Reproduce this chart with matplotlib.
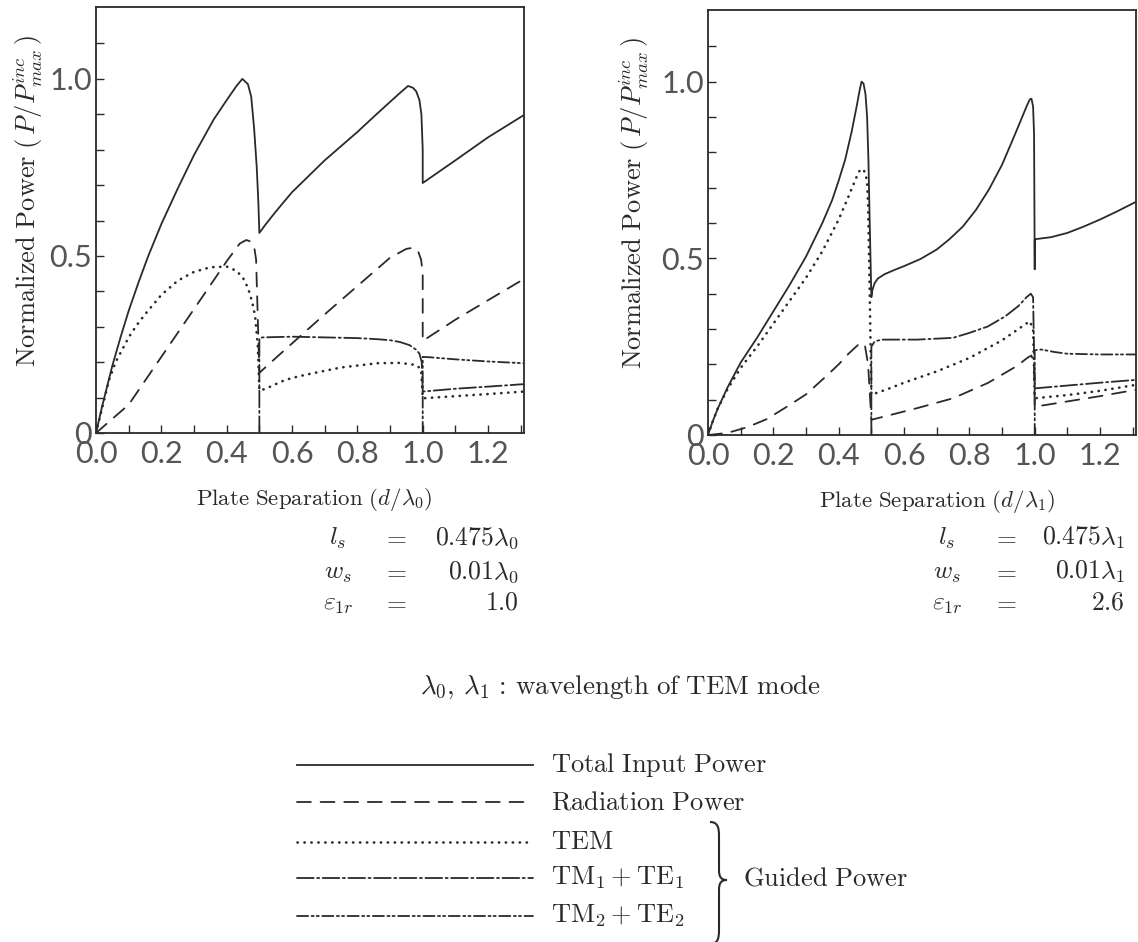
import matplotlib
matplotlib.use('Agg')
import matplotlib.pyplot as plt
from matplotlib.path import Path
from matplotlib.patches import PathPatch

plt.rcParams['mathtext.fontset'] = 'cm'
plt.rcParams['lines.scale_dashes'] = False

# ---- left panel (eps_1r = 1.0) ----
tot_x_l = [0, 0.01, 0.02, 0.035, 0.05, 0.075, 0.1, 0.13, 0.16, 0.2, 0.25, 0.3, 0.36, 0.4, 0.43,
           0.448, 0.465, 0.475, 0.484, 0.492, 0.497, 0.5,
           0.52, 0.55, 0.6, 0.65, 0.7, 0.75, 0.8, 0.85, 0.9, 0.93, 0.955, 0.97, 0.98, 0.99, 0.996,
           1.0, 1.0, 1.1, 1.2, 1.31]
tot_y_l = [0, 0.04, 0.08, 0.135, 0.19, 0.27, 0.345, 0.425, 0.5, 0.59, 0.69, 0.785, 0.885, 0.94, 0.98,
           1.0, 0.985, 0.95, 0.86, 0.75, 0.65, 0.565,
           0.59, 0.625, 0.68, 0.725, 0.77, 0.81, 0.85, 0.893, 0.935, 0.96, 0.98, 0.975, 0.965, 0.94,
           0.9, 0.8, 0.706, 0.77, 0.835, 0.898]

rad_x_l = [0, 0.1, 0.2, 0.3, 0.4, 0.44, 0.46, 0.475, 0.485, 0.49, 0.5, 0.56, 0.7, 0.8, 0.9, 0.95,
           0.97, 0.985, 0.995, 1.0, 1.0, 1.1, 1.2, 1.31]
rad_y_l = [0, 0.08, 0.215, 0.35, 0.485, 0.535, 0.545, 0.54, 0.52, 0.49, 0.17, 0.22, 0.335, 0.415,
           0.495, 0.52, 0.523, 0.515, 0.49, 0.45, 0.26, 0.32, 0.375, 0.435]

tem_x_l = [0, 0.02, 0.04, 0.06, 0.08, 0.1, 0.125, 0.15, 0.2, 0.25, 0.3, 0.35, 0.4, 0.43, 0.45,
           0.465, 0.478, 0.487, 0.495, 0.5,
           0.52, 0.55, 0.58, 0.62, 0.66, 0.75, 0.86, 0.93, 0.98, 0.995, 1.0, 1.1, 1.2, 1.31]
tem_y_l = [0, 0.075, 0.15, 0.2, 0.235, 0.27, 0.305, 0.335, 0.39, 0.43, 0.455, 0.468, 0.47, 0.458,
           0.438, 0.41, 0.37, 0.33, 0.25, 0.12,
           0.125, 0.138, 0.15, 0.16, 0.168, 0.185, 0.197, 0.198, 0.192, 0.18, 0.098, 0.104,
           0.11, 0.117]

tm1_x_l = [0.5, 0.5, 0.51, 0.6, 0.7, 0.8, 0.86, 0.9, 0.93, 0.96, 0.98, 0.99, 0.997, 1.0, 1.1, 1.2, 1.31]
tm1_y_l = [0, 0.268, 0.27, 0.272, 0.27, 0.268, 0.265, 0.262, 0.257, 0.248, 0.235, 0.224, 0.2,
           0.117, 0.125, 0.131, 0.138]

tm2_x_l = [1.0, 1.0, 1.02, 1.1, 1.2, 1.31]
tm2_y_l = [0, 0.215, 0.214, 0.208, 0.202, 0.197]

# ---- right panel (eps_1r = 2.6) ----
tot_x_r = [0, 0.015, 0.03, 0.06, 0.1, 0.15, 0.2, 0.25, 0.3, 0.35, 0.38, 0.4, 0.42, 0.44, 0.455,
           0.465, 0.47, 0.476, 0.482, 0.487, 0.491, 0.495, 0.5,
           0.503, 0.51, 0.52, 0.54, 0.57, 0.6, 0.65, 0.7, 0.74, 0.78, 0.82, 0.86, 0.9, 0.93, 0.955,
           0.975, 0.985, 0.99, 0.995, 0.998, 1.0, 1.0, 1.05, 1.1, 1.15, 1.2, 1.25, 1.31]
tot_y_r = [0, 0.04, 0.075, 0.135, 0.205, 0.275, 0.35, 0.425, 0.505, 0.6, 0.665, 0.72, 0.78, 0.86,
           0.93, 0.98, 1.0, 0.995, 0.965, 0.9, 0.78, 0.6, 0.39,
           0.41, 0.43, 0.443, 0.455, 0.467, 0.478, 0.498, 0.525, 0.555, 0.59, 0.637, 0.695, 0.765,
           0.83, 0.885, 0.93, 0.95, 0.952, 0.93, 0.85, 0.469, 0.554, 0.56, 0.572, 0.59, 0.61, 0.632,
           0.66]

rad_x_r = [0, 0.06, 0.12, 0.18, 0.25, 0.3, 0.36, 0.4, 0.43, 0.465, 0.48, 0.49, 0.5, 0.64, 0.75,
           0.856, 0.943, 0.98, 0.99, 0.998, 1.0, 1.1, 1.2, 1.31]
rad_y_r = [0, 0.006, 0.022, 0.045, 0.085, 0.115, 0.165, 0.2, 0.23, 0.26, 0.255, 0.2, 0.043, 0.076,
           0.104, 0.147, 0.194, 0.22, 0.225, 0.2, 0.08, 0.095, 0.11, 0.128]

tem_x_r = [0, 0.015, 0.03, 0.06, 0.1, 0.15, 0.2, 0.25, 0.3, 0.35, 0.4, 0.43, 0.45, 0.46, 0.467,
           0.475, 0.482, 0.487, 0.49, 0.495, 0.5,
           0.55, 0.6, 0.7, 0.8, 0.9, 0.95, 0.985, 0.995, 1.0, 1.1, 1.2, 1.31]
tem_y_r = [0, 0.04, 0.075, 0.13, 0.19, 0.25, 0.315, 0.38, 0.445, 0.52, 0.61, 0.675, 0.72, 0.742,
           0.752, 0.752, 0.74, 0.715, 0.65, 0.4, 0.114,
           0.13, 0.148, 0.18, 0.218, 0.268, 0.3, 0.322, 0.3, 0.104, 0.113, 0.125, 0.142]

tm1_x_r = [0.5, 0.5, 0.51, 0.532, 0.64, 0.75, 0.8, 0.856, 0.91, 0.95, 0.975, 0.988, 0.995, 1.0,
           1.1, 1.2, 1.31]
tm1_y_r = [0, 0.25, 0.265, 0.27, 0.27, 0.275, 0.289, 0.307, 0.336, 0.365, 0.39, 0.4, 0.39, 0.132,
           0.14, 0.148, 0.156]

tm2_x_r = [1.0, 1.0, 1.02, 1.06, 1.1, 1.2, 1.31]
tm2_y_r = [0, 0.24, 0.242, 0.235, 0.23, 0.228, 0.228]

legend_labels = ['Total Input Power', 'Radiation Power', 'TEM',
                 r'$\mathrm{TM}_1+\mathrm{TE}_1$', r'$\mathrm{TM}_2+\mathrm{TE}_2$']

col = '#2a2a2a'
styles = ['-', (0, (10, 7)), (0, (0.2, 4.8)), (0, (12, 2.5, 1.5, 2.5)),
          (0, (8, 2.5, 1.5, 2.2, 1.5, 2.5))]
widths = [1.3, 1.3, 1.9, 1.3, 1.3]

fig = plt.figure(figsize=(11.38, 9.42), dpi=100)
W, H = 1138, 942


def px_axes(x0, x1, y0, y1):
    return fig.add_axes([x0 / W, (H - y1) / H, (x1 - x0) / W, (y1 - y0) / H])


def setup(ax, sub):
    ax.set_xlim(0, 1.31)
    ax.set_ylim(0, 1.203)
    ax.set_xticks([0, 0.2, 0.4, 0.6, 0.8, 1.0, 1.2])
    ax.set_xticklabels(['0.0', '0.2', '0.4', '0.6', '0.8', '1.0', '1.2'])
    ax.set_xticks([0.1, 0.3, 0.5, 0.7, 0.9, 1.1, 1.3], minor=True)
    ax.set_yticks([0, 0.5, 1.0])
    ax.set_yticklabels(['0', '0.5', '1.0'])
    ax.set_yticks([0.1, 0.2, 0.3, 0.4, 0.6, 0.7, 0.8, 0.9, 1.1], minor=True)
    ax.tick_params(which='both', direction='in', length=6, width=1.0, color=col,
                   top=False, right=False)
    ax.tick_params(axis='x', which='major', pad=5)
    ax.tick_params(axis='y', which='major', pad=3)
    for lab in ax.get_xticklabels() + ax.get_yticklabels():
        lab.set_family('Lato')
        lab.set_fontsize(22)
        lab.set_color('#555555')
    for s in ax.spines.values():
        s.set_linewidth(1.3)
        s.set_color(col)
    ax.set_xlabel(r'$\mathrm{Plate\ Separation}\ (d/\lambda_%s)$' % sub, fontsize=16.5, color=col)
    ax.set_ylabel(r'$\mathrm{Normalized\ Power}\ (\,P/P^{inc}_{max}\,)$', fontsize=19, color=col)


axL = px_axes(96, 524, 7, 433)
axR = px_axes(708, 1136, 10, 435)

for ax, series in [(axL, [(tot_x_l, tot_y_l), (rad_x_l, rad_y_l), (tem_x_l, tem_y_l),
                          (tm1_x_l, tm1_y_l), (tm2_x_l, tm2_y_l)]),
                   (axR, [(tot_x_r, tot_y_r), (rad_x_r, rad_y_r), (tem_x_r, tem_y_r),
                          (tm1_x_r, tm1_y_r), (tm2_x_r, tm2_y_r)])]:
    for (xs, ys), ls, w in zip(series, styles, widths):
        ax.plot(xs, ys, color=col, lw=w, linestyle=ls, dash_capstyle='round')

setup(axL, '0')
setup(axR, '1')
axL.xaxis.set_label_coords(0.51, -0.125)
axR.xaxis.set_label_coords(0.535, -0.125)
axL.yaxis.set_label_coords(-0.118, 0.545)
axR.yaxis.set_label_coords(-0.134, 0.545)

# overlay in pixel coordinates for notes and legend
ov = fig.add_axes([0, 0, 1, 1])
ov.set_xlim(0, W)
ov.set_ylim(H, 0)
ov.axis('off')

fs_note = 18.5
for (xl, xe, xv, lam) in [(338, 395, 519, '0'), (947, 1005, 1125, '1')]:
    rows = [(r'$l_s$', r'$0.475\lambda_%s$' % lam),
            (r'$w_s$', r'$0.01\lambda_%s$' % lam),
            (r'$\varepsilon_{1r}$', r'$1.0$' if lam == '0' else r'$2.6$')]
    for (lhs, rhs), yy in zip(rows, [538, 572, 603]):
        ov.text(xl, yy, lhs, ha='center', va='center', fontsize=fs_note, color=col)
        ov.text(xe, yy, r'$=$', ha='center', va='center', fontsize=fs_note, color=col)
        ov.text(xv, yy, rhs, ha='right', va='center', fontsize=fs_note, color=col)

ov.text(620, 687, r'$\lambda_0,\,\lambda_1\,:\,\mathrm{wavelength\ of\ TEM\ mode}$',
        ha='center', va='center', fontsize=19.5, color=col)

leg_y = [765, 802, 842, 878, 916]
for lab, ls, w, yy in zip(legend_labels, styles, widths, leg_y):
    ov.plot([297, 533], [yy, yy], color=col, lw=w, linestyle=ls, dash_capstyle='round')
    txt = lab if lab.startswith('$') else r'$\mathrm{%s}$' % lab.replace(' ', r'\ ')
    ov.text(551, yy, txt, ha='left', va='center', fontsize=19, color=col)

# brace for guided power
bx, top, mid, bot = 712, 822, 880, 944
verts = [(bx - 2, top), (bx + 6, top), (bx + 7, top + 6), (bx + 7, top + 14),
         (bx + 7, mid - 10),
         (bx + 7, mid - 2), (bx + 10, mid), (bx + 15, mid),
         (bx + 10, mid), (bx + 7, mid + 2), (bx + 7, mid + 10),
         (bx + 7, bot - 14),
         (bx + 7, bot - 6), (bx + 6, bot), (bx - 2, bot)]
codes = [Path.MOVETO, Path.CURVE4, Path.CURVE4, Path.CURVE4, Path.LINETO,
         Path.CURVE4, Path.CURVE4, Path.CURVE4,
         Path.CURVE4, Path.CURVE4, Path.CURVE4, Path.LINETO,
         Path.CURVE4, Path.CURVE4, Path.CURVE4]
ov.add_patch(PathPatch(Path(verts, codes), fill=False, lw=1.5, color=col))
ov.text(743, 879, r'$\mathrm{Guided\ Power}$', ha='left', va='center', fontsize=19, color=col)

fig.savefig('out.png', dpi=100)
